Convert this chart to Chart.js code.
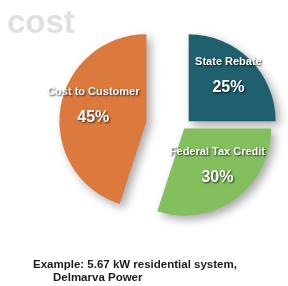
<!DOCTYPE html>
<html>
<head>
<meta charset="utf-8">
<script src="https://cdn.jsdelivr.net/npm/chart.js@4/dist/chart.umd.min.js"></script>
<style>
  body { margin: 0; background: #fff; }
  #wrap { position: relative; width: 288px; height: 286px; }
  .title { position: absolute; left: 7px; top: 5px; font: bold 33px "Liberation Sans", Arial, sans-serif; line-height: 33px; color: #e0e0e0; }
  .note { position: absolute; font: bold 11.5px "Liberation Sans", Arial, sans-serif; line-height: 13px; color: #1c1c1c; white-space: nowrap; }
</style>
</head>
<body>
<div id="wrap">
  <canvas id="pie"></canvas>
  <div class="title">cost</div>
  <div class="note" style="left:33px; top:258px;">Example: 5.67 kW residential system,</div>
  <div class="note" style="left:53px; top:271px;">Delmarva Power</div>
</div>
<script>
// Pie data
const labels = ['State Rebate', 'Federal Tax Credit', 'Cost to Customer'];
const values = [25, 30, 45];
const colors = ['#1f5f6e', '#84bf5e', '#dc793d'];

// how far each slice is pulled out from the centre (px)
const pull = [8, 2, 37];

// draws each arc shifted outwards with a drop shadow, then the labels
const explode = {
  id: 'explode',
  beforeDatasetDraw(chart, args) {
    const ctx = chart.ctx;
    args.meta.data.forEach((arc, i) => {
      const mid = (arc.startAngle + arc.endAngle) / 2;
      ctx.save();
      ctx.translate(Math.cos(mid) * pull[i], Math.sin(mid) * pull[i]);
      ctx.shadowColor = 'rgba(0,0,0,0.35)';
      ctx.shadowBlur = 10;
      ctx.shadowOffsetX = 4;
      ctx.shadowOffsetY = 4;
      arc.draw(ctx);
      ctx.restore();
    });
    return false;
  },
  afterDatasetsDraw(chart) {
    const ctx = chart.ctx;
    const meta = chart.getDatasetMeta(0);
    const total = values.reduce((a, b) => a + b, 0);
    ctx.save();
    ctx.fillStyle = '#fff';
    ctx.textAlign = 'center';
    ctx.textBaseline = 'middle';
    ctx.shadowColor = 'rgba(0,0,0,0.75)';
    ctx.shadowBlur = 2;
    ctx.shadowOffsetX = 1;
    ctx.shadowOffsetY = 1;
    meta.data.forEach((arc, i) => {
      const mid = (arc.startAngle + arc.endAngle) / 2;
      const d = pull[i] + arc.outerRadius * 0.63;
      const x = arc.x + Math.cos(mid) * d + 1;
      const y = arc.y + Math.sin(mid) * d + 5;
      ctx.font = 'bold 16px "Liberation Sans", Arial, sans-serif';
      ctx.fillText(Math.round(values[i] / total * 100) + '%', x, y);
      ctx.font = 'bold 11px "Liberation Sans", Arial, sans-serif';
      ctx.fillText(labels[i], x, y - 26);
    });
    ctx.restore();
  }
};

new Chart(document.getElementById('pie').getContext('2d'), {
  type: 'pie',
  data: {
    labels: labels,
    datasets: [{
      data: values,
      backgroundColor: colors,
      borderWidth: 0,
      radius: 87
    }]
  },
  options: {
    responsive: true,
    maintainAspectRatio: false,
    animation: false,
    layout: {padding: {left: 88, right: 10, top: 10, bottom: 42}},
    plugins: {
      legend: {display: false},
      tooltip: {enabled: false}
    }
  },
  plugins: [explode]
});
</script>
</body>
</html>
